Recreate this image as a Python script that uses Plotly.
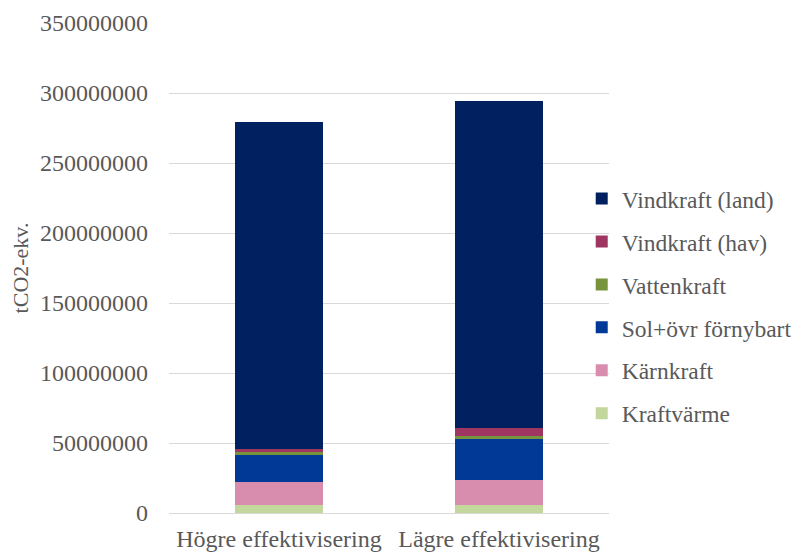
import plotly.graph_objects as go

categories = ["Högre effektivisering", "Lägre effektivisering"]
series_names = ["Kraftvärme", "Kärnkraft", "Sol+övr förnybart", "Vattenkraft", "Vindkraft (hav)", "Vindkraft (land)"]
kraftvarme = [5700000, 5700000]
karnkraft = [16700000, 17900000]
sol = [19300000, 29500000]
vattenkraft = [1900000, 1900000]
vind_hav = [1900000, 5900000]
vind_land = [233500000, 233400000]
colors = ["#C3D69B", "#D88DAE", "#003A96", "#77933C", "#9F3561", "#002060"]

values = [kraftvarme, karnkraft, sol, vattenkraft, vind_hav, vind_land]

fig = go.Figure()
n = len(series_names)
for i, (name, vals, col) in enumerate(zip(series_names, values, colors)):
    fig.add_trace(go.Bar(x=categories, y=vals, name=name, marker=dict(color=col, line=dict(width=0)),
                         legendgroup=name, legendrank=n - i))

font_family = "Liberation Serif"
fig.update_layout(
    barmode="stack",
    bargap=0.6,
    width=791, height=545,
    margin=dict(l=161, r=190, t=15, b=40, autoexpand=False),
    plot_bgcolor="white", paper_bgcolor="white",
    font=dict(family=font_family, size=24, color="#595959"),
    showlegend=True,
    legend=dict(traceorder="grouped", tracegroupgap=9.4, x=0.938, xanchor="left",
                y=0.422, yanchor="middle", font=dict(family=font_family, size=23.5, color="#595959"),
                itemwidth=30, bgcolor="rgba(0,0,0,0)"),
)
fig.update_yaxes(range=[0, 350000000], dtick=50000000, tickformat="d", gridcolor="#D9D9D9", gridwidth=1,
                 zeroline=False, showline=False, ticklabelstandoff=20, automargin=False,
                 tickfont=dict(family=font_family, size=24, color="#595959"),
                 title=dict(text="tCO2-ekv.", font=dict(family=font_family, size=22, color="#595959"), standoff=17))
fig.update_xaxes(showline=True, linecolor="#D9D9D9", linewidth=1, automargin=False, ticklabelstandoff=4,
                 tickfont=dict(family=font_family, size=24, color="#595959"))

fig.write_html("out.html")
